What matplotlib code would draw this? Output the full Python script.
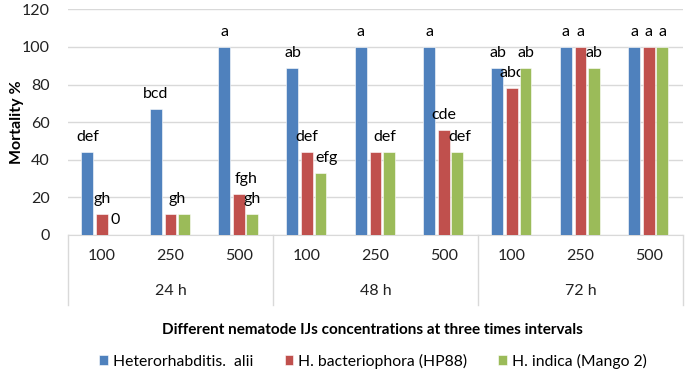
import numpy as np
import matplotlib.pyplot as plt
import matplotlib.transforms as mtransforms

plt.rcParams['font.family'] = ['Lato', 'DejaVu Sans']

# data
concs = ['100', '250', '500'] * 3
times = ['24 h', '48 h', '72 h']
series = ['Heterorhabditis.  alii', 'H. bacteriophora (HP88)', 'H. indica (Mango 2)']
alii = [44, 67, 100, 89, 100, 100, 89, 100, 100]
bacterio = [11, 11, 22, 44, 44, 56, 78, 100, 100]
indica = [0, 11, 11, 33, 44, 44, 89, 89, 100]
lab_alii = ['def', 'bcd', 'a', 'ab', 'a', 'a', 'ab', 'a', 'a']
lab_bacterio = ['gh', '', 'fgh', 'def', '', 'cde', 'abc', 'a', 'a']
lab_indica = ['0', 'gh', 'gh', 'efg', 'def', 'def', 'ab', 'ab', 'a']

colors = ['#4F81BD', '#C0504D', '#9BBB59']
# small label nudges (pixels), like the hand-moved labels in excel
nudge = {(1, 2): 7, (2, 1): -7, (2, 3): 6, (2, 4): -4, (2, 5): 3}

fig = plt.figure(figsize=(6.85, 3.78), dpi=100)
ax = fig.add_axes([68/685, 143/378, 615/685, 225.6/378])

x = np.arange(len(concs))
w = 0.175
offs = [-0.215, 0, 0.195]
values = [alii, bacterio, indica]
labels = [lab_alii, lab_bacterio, lab_indica]

for s in range(3):
    ax.bar(x + offs[s], values[s], w, color=colors[s], label=series[s],
           edgecolor='white', linewidth=0.4, zorder=3)
    for i in range(len(x)):
        if labels[s][i]:
            ax.annotate(labels[s][i], (x[i] + offs[s], values[s][i]),
                        xytext=(nudge.get((s, i), 0), 15), textcoords='offset pixels',
                        ha='center', va='center', fontsize=11.5, color='#000000')

ax.set_ylim(0, 120)
ax.set_xlim(-0.5, len(x) - 0.5)
ax.set_yticks(range(0, 121, 20))
ax.tick_params(axis='y', length=0, pad=13, labelsize=11.5, labelcolor='#222222')
ax.set_xticks([])
ax.yaxis.grid(True, color='#D9D9D9', linewidth=1, zorder=0)
for sp in ['top', 'right', 'left']:
    ax.spines[sp].set_visible(False)
ax.spines['bottom'].set_color('#D9D9D9')
ax.set_ylabel('Mortality %', fontsize=11.5, fontweight='bold', va='center')
ax.yaxis.set_label_coords(-0.083, 0.5)

# two level category axis
trans = mtransforms.blended_transform_factory(ax.transData, ax.transAxes)
for i, c in enumerate(concs):
    ax.text(x[i], -0.093, c, transform=trans, ha='center', va='center',
            fontsize=11.5, color='#222222')
for j, t in enumerate(times):
    ax.text(3 * j + 1, -0.249, t, transform=trans, ha='center', va='center',
            fontsize=11.5, color='#222222')
for b in np.arange(-0.5, len(x), 3):
    ax.plot([b, b], [0, -0.311], transform=trans, color='#D9D9D9', lw=1, clip_on=False)

fig.text(372/685, 1 - 330/378, 'Different nematode IJs concentrations at three times intervals',
         ha='center', va='center', fontsize=11, fontweight='bold')

fig.legend(loc='center', bbox_to_anchor=(373/685, 1 - 361/378), ncol=3, frameon=False,
           fontsize=11.3, handlelength=0.55, handleheight=0.55, handletextpad=0.3,
           columnspacing=2.0)

fig.savefig('out.png', dpi=100)
